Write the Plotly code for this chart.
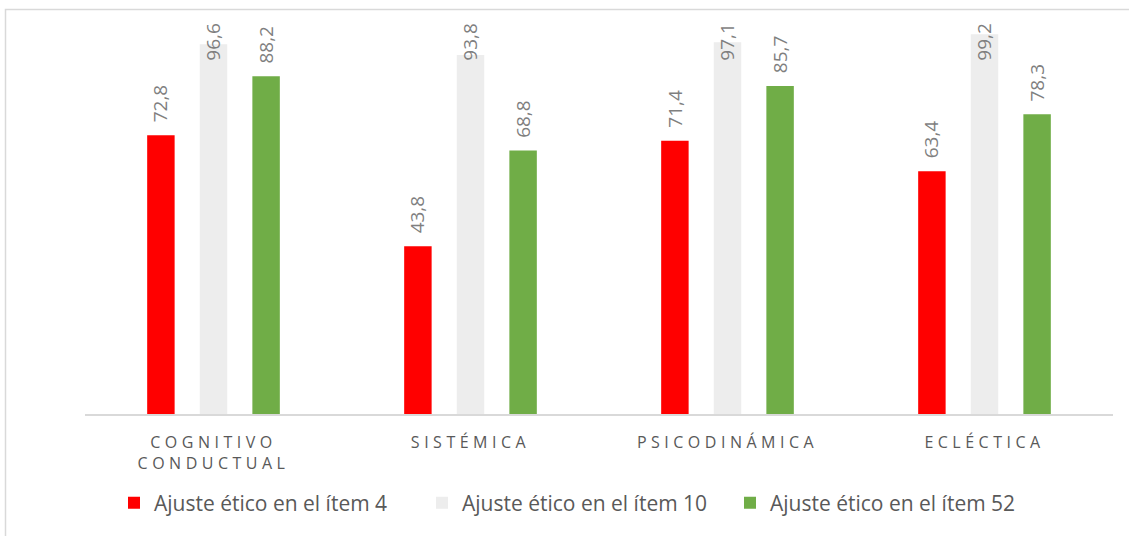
import plotly.graph_objects as go

categories = ["COGNITIVO<br>CONDUCTUAL", "SISTÉMICA", "PSICODINÁMICA", "ECLÉCTICA"]
series_names = ["Ajuste ético en el ítem 4", "Ajuste ético en el ítem 10", "Ajuste ético en el ítem 52"]
item4 = [72.8, 43.8, 71.4, 63.4]
item10 = [96.6, 93.8, 97.1, 99.2]
item52 = [88.2, 68.8, 85.7, 78.3]
colors = ["#FF0000", "#EDEDED", "#70AD47"]

W, H = 1129, 536
YMAX = 105
ML, MR, MT, MB = 85, 16, 12, 122
plot_w = W - ML - MR
plot_h = H - MT - MB

fig = go.Figure()
all_series = [item4, item10, item52]
for name, vals, col in zip(series_names, all_series, colors):
    fig.add_trace(go.Bar(
        x=categories, y=vals, name=name,
        marker=dict(color=col, line=dict(width=0)),
        hoverinfo="skip",
    ))

bargap = 0.386
slot_px = (1 - bargap) * plot_w / len(categories) / 3
for si, vals in enumerate(all_series):
    for ci, v in enumerate(vals):
        fig.add_annotation(
            x=categories[ci], y=min(v + 13.8, 102.6),
            xref="x", yref="y",
            text=f"{v:.1f}".replace(".", ","),
            textangle=-90, showarrow=False,
            xanchor="center", yanchor="top",
            xshift=(si - 1) * slot_px,
            font=dict(family="Open Sans", size=19, color="#7F7F7F"),
        )

# outer chart border (only left and top visible in frame)
fig.add_shape(
    type="rect", xref="paper", yref="paper",
    x0=(5.5 - ML) / plot_w, x1=(W + 10 - ML) / plot_w,
    y0=-(H + 10 - MT - plot_h) / plot_h, y1=(MT + plot_h - 9.5) / plot_h,
    line=dict(color="#D9D9D9", width=1.5), fillcolor="rgba(0,0,0,0)", layer="below",
)

fig.update_layout(
    width=W, height=H,
    margin=dict(l=ML, r=MR, t=MT, b=MB, pad=0),
    paper_bgcolor="white", plot_bgcolor="white",
    barmode="group", bargap=bargap, bargroupgap=0.478,
    showlegend=True,
    legend=dict(
        orientation="h", x=(114 - ML) / plot_w, xanchor="left",
        y=-(503 - MT - plot_h) / plot_h, yanchor="middle",
        entrywidth=263, entrywidthmode="pixels",
        font=dict(family="Open Sans", size=21, color="#595959"),
        bgcolor="rgba(0,0,0,0)", itemclick=False, itemdoubleclick=False,
    ),
    xaxis=dict(
        showline=True, linecolor="#D9D9D9", linewidth=1.5,
        ticks="", showgrid=False, zeroline=False,
        tickfont=dict(family="Open Sans", size=16, color="#595959"),
        ticklabelstandoff=13,
    ),
    yaxis=dict(range=[0, YMAX], visible=False, showgrid=False, zeroline=False),
)

post = """
document.body.style.margin='0';
var s=document.createElement('style');
s.innerHTML='body{margin:0}.xtick text{letter-spacing:4.5px}';
document.head.appendChild(s);
"""
fig.write_html("out.html", post_script=post, config={"displayModeBar": False})
